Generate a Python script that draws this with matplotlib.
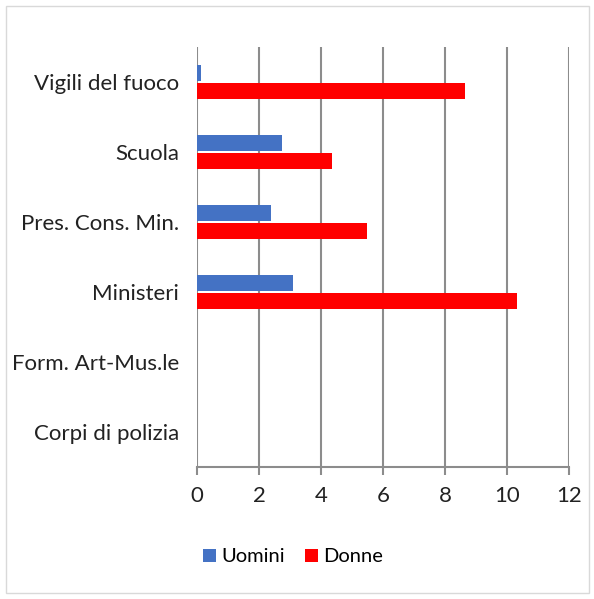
import matplotlib.pyplot as plt
import matplotlib.patches as mpatches
import numpy as np

# === DATA ===
categories = ["Vigili del fuoco", "Scuola", "Pres. Cons. Min.", "Ministeri",
              "Form. Art-Mus.le", "Corpi di polizia"]
uomini = [0.12, 2.74, 2.39, 3.09, 0, 0]
donne = [8.66, 4.36, 5.47, 10.32, 0, 0]
x_ticks = [0, 2, 4, 6, 8, 10, 12]

blue = "#4472C4"
red = "#FF0000"
grid_col = "#8C8C8C"

plt.rcParams['font.family'] = ['Lato', 'DejaVu Sans']
fs = 16

fig = plt.figure(figsize=(5.94, 5.99), dpi=100)
ax = fig.add_axes([197 / 594, 1 - 467 / 599, (569 - 197) / 594, (467 - 47) / 599])

y = np.arange(len(categories))
h = 0.23
ax.barh(y - 0.125, uomini, height=h, color=blue, label="Uomini")
ax.barh(y + 0.125, donne, height=h, color=red, label="Donne")

ax.set_ylim(len(categories) - 0.5, -0.5)
ax.set_xlim(0, 12)
ax.set_yticks(y)
ax.set_yticklabels(categories, fontsize=fs, color="#222222")
ax.set_xticks(x_ticks)
ax.set_xticklabels([str(t) for t in x_ticks], fontsize=fs, color="#222222")
ax.tick_params(axis='y', length=0, pad=13)
ax.tick_params(axis='x', length=6, width=1.5, color=grid_col, pad=8)

ax.grid(axis='x', color=grid_col, linewidth=1.5)
ax.set_axisbelow(True)
for s in ['top', 'right']:
    ax.spines[s].set_visible(False)
ax.spines['left'].set_visible(False)
ax.spines['bottom'].set_color(grid_col)
ax.spines['bottom'].set_linewidth(1.5)

fig.legend(loc='center', bbox_to_anchor=(293 / 594, 1 - 557 / 599), ncol=2,
           frameon=False, fontsize=14.5, handlelength=0.65, handleheight=0.65,
           handletextpad=0.25, columnspacing=1.0)

# outer chart border
fig.patches.append(mpatches.Rectangle((6 / 594, 6 / 599), 583 / 594, 587 / 599,
                                      transform=fig.transFigure, fill=False,
                                      edgecolor="#D9D9D9", linewidth=1))

fig.savefig("out.png", dpi=100)
